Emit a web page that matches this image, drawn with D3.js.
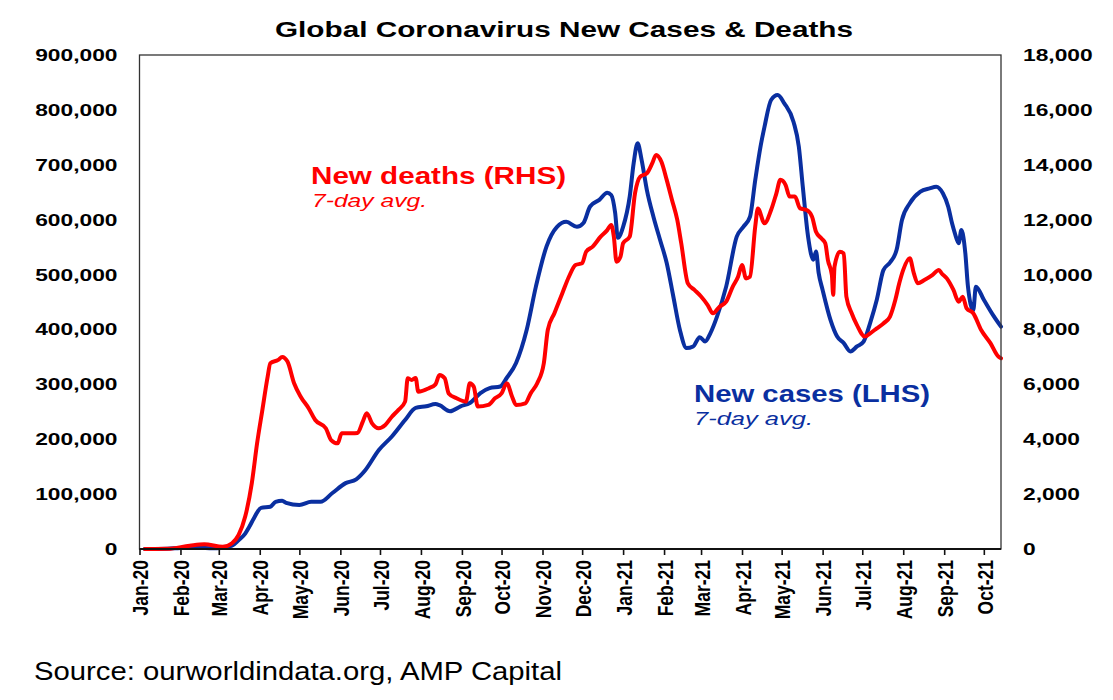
<!DOCTYPE html>
<html>
<head>
<meta charset="utf-8">
<script src="https://cdn.jsdelivr.net/npm/d3@7"></script>
<style>
  html, body { margin: 0; padding: 0; background: #fff; }
  svg { display: block; font-family: "Liberation Sans", Arial, sans-serif; }
</style>
</head>
<body>
<svg id="chart" width="1113" height="700"></svg>
<script>
// ---------------- DATA ----------------
const chartTitle = "Global Coronavirus New Cases & Deaths";
const sourceText = "Source: ourworldindata.org, AMP Capital";

const leftTicks = [0, 100000, 200000, 300000, 400000, 500000, 600000, 700000, 800000, 900000];
const rightTicks = [0, 2000, 4000, 6000, 8000, 10000, 12000, 14000, 16000, 18000];

// New cases, 7-day avg (thousands) - left axis
const caseDates = ["2020-01-05","2020-01-22","2020-02-01","2020-02-15","2020-02-25","2020-03-03","2020-03-11","2020-03-16","2020-03-21","2020-03-24","2020-03-28",
"2020-04-02","2020-04-09","2020-04-13","2020-04-18","2020-04-21","2020-05-01","2020-05-10","2020-05-17","2020-05-26","2020-06-05",
"2020-06-13","2020-06-20","2020-06-30","2020-07-10","2020-07-20","2020-07-28","2020-08-05","2020-08-12","2020-08-15","2020-08-23",
"2020-08-31","2020-09-07","2020-09-15","2020-09-22","2020-09-30","2020-10-05","2020-10-12","2020-10-20","2020-10-27","2020-11-04",
"2020-11-12","2020-11-19","2020-11-27","2020-12-02","2020-12-07","2020-12-14","2020-12-20","2020-12-23","2020-12-26","2020-12-28",
"2021-01-01","2021-01-06","2021-01-09","2021-01-12","2021-01-15","2021-01-19","2021-01-24","2021-01-29","2021-02-03","2021-02-08",
"2021-02-13","2021-02-18","2021-02-23","2021-02-28","2021-03-04","2021-03-08","2021-03-13","2021-03-20","2021-03-28","2021-04-02",
"2021-04-07","2021-04-11","2021-04-15","2021-04-18","2021-04-23","2021-04-28","2021-05-03","2021-05-10","2021-05-14","2021-05-17",
"2021-05-21","2021-05-25","2021-05-27","2021-05-29","2021-06-01","2021-06-07","2021-06-12","2021-06-17","2021-06-22","2021-06-27",
"2021-07-02","2021-07-07","2021-07-12","2021-07-17","2021-07-22","2021-07-27","2021-07-31","2021-08-06","2021-08-14","2021-08-21",
"2021-08-26","2021-08-31","2021-09-04","2021-09-07","2021-09-09","2021-09-12","2021-09-14","2021-09-17","2021-09-19","2021-09-23",
"2021-09-25","2021-10-01","2021-10-08","2021-10-14"];
const newCasesK = [0,0.5,2,2.5,1.5,2,6,16,28,40,58,
75,77,86,88,84,80,86,86,102,120,
127,144,180,205,235,257,260,264,262,251,
260,266,284,293,296,312,339,399,478,551,
587,596,587,594,624,636,649,645,612,567,
587,642,703,739,709,654,605,563,521,460,
399,366,369,386,378,393,423,478,569,587,
605,672,733,769,818,827,812,778,733,660,
569,527,542,503,472,417,387,375,360,369,
378,412,454,508,522,545,599,630,651,657,
660,648,624,593,576,557,581,539,478,435,
478,454,426,405];

// New deaths, 7-day avg - right axis
const deathDates = ["2020-01-05","2020-01-22","2020-02-08","2020-02-19","2020-03-04","2020-03-11","2020-03-16","2020-03-21","2020-03-26","2020-03-30","2020-04-03",
"2020-04-07","2020-04-09","2020-04-15","2020-04-18","2020-04-22","2020-04-27","2020-05-02","2020-05-08","2020-05-13","2020-05-21",
"2020-05-25","2020-05-30","2020-06-02","2020-06-10","2020-06-14","2020-06-18","2020-06-21","2020-06-25","2020-06-30","2020-07-05",
"2020-07-10","2020-07-15","2020-07-20","2020-07-22","2020-07-25","2020-07-28","2020-07-30","2020-08-07","2020-08-12","2020-08-15",
"2020-08-19","2020-08-22","2020-08-28","2020-09-04","2020-09-07","2020-09-10","2020-09-13","2020-09-21","2020-09-26","2020-10-01",
"2020-10-05","2020-10-09","2020-10-12","2020-10-19","2020-10-23","2020-10-28","2020-11-02","2020-11-05","2020-11-10","2020-11-16",
"2020-11-21","2020-11-26","2020-12-01","2020-12-04","2020-12-09","2020-12-15","2020-12-20","2020-12-23","2020-12-25","2020-12-27",
"2020-12-30","2021-01-01","2021-01-06","2021-01-10","2021-01-14","2021-01-19","2021-01-23","2021-01-26","2021-01-30","2021-02-03",
"2021-02-07","2021-02-11","2021-02-14","2021-02-19","2021-02-24","2021-03-01","2021-03-06","2021-03-10","2021-03-15","2021-03-20",
"2021-03-25","2021-03-29","2021-04-01","2021-04-04","2021-04-07","2021-04-11","2021-04-13","2021-04-18","2021-04-23","2021-04-27",
"2021-04-30","2021-05-04","2021-05-07","2021-05-11","2021-05-15","2021-05-20","2021-05-24","2021-05-27","2021-05-31","2021-06-03",
"2021-06-05","2021-06-08","2021-06-09","2021-06-10","2021-06-14","2021-06-17","2021-06-19","2021-06-23","2021-06-27","2021-07-03",
"2021-07-07","2021-07-12","2021-07-17","2021-07-22","2021-07-26","2021-07-29","2021-08-01","2021-08-06","2021-08-09","2021-08-12",
"2021-08-17","2021-08-23","2021-08-28","2021-08-30","2021-09-03","2021-09-08","2021-09-12","2021-09-15","2021-09-18","2021-09-23",
"2021-09-29","2021-10-06","2021-10-12","2021-10-14"];
const newDeaths = [0,5,120,170,80,210,510,1180,2400,3850,5070,
6280,6770,6890,7000,6830,6040,5550,5130,4700,4400,
3970,3850,4220,4220,4230,4640,4950,4580,4400,4520,
4820,5070,5370,6220,6160,6230,5730,5860,6000,6340,
6220,5670,5490,5370,6040,5910,5190,5250,5490,5670,
6040,5550,5250,5310,5670,6040,6770,7980,8590,9320,
9920,10350,10410,10830,11020,11380,11620,11810,11380,10470,
10650,11140,11380,12960,13570,13690,14050,14360,14110,13450,
12720,11990,11140,9680,9440,9200,8890,8590,8830,9010,
9560,9920,10350,9860,9920,11750,12410,11870,12350,12960,
13450,13260,12840,12840,12410,12350,12110,11560,11320,11140,
10530,9980,9260,10290,10830,10770,9190,8590,8160,7740,
7860,8040,8220,8470,9070,9680,10170,10590,10050,9680,
9800,9980,10170,10050,9860,9440,9010,9190,8770,8590,
7980,7500,7010,6950];

// ---------------- CHART ----------------
const parse = d3.utcParse("%Y-%m-%d");
const cases = caseDates.map((d, i) => ({ date: parse(d), value: newCasesK[i] * 1000 }));
const deaths = deathDates.map((d, i) => ({ date: parse(d), value: newDeaths[i] }));

const blue = "#0a2fa0";
const red = "#ff0000";

const plot = { left: 139.5, right: 1001, top: 55, bottom: 549 };
const svg = d3.select("#chart");
svg.append("rect").attr("width", 1113).attr("height", 700).attr("fill", "#fff");

const x = d3.scaleUtc()
  .domain([parse("2020-01-01"), parse("2021-10-14")])
  .range([plot.left, plot.right]);
const yL = d3.scaleLinear().domain([0, 900000]).range([plot.bottom, plot.top]);
const yR = d3.scaleLinear().domain([0, 18000]).range([plot.bottom, plot.top]);

function fitWidth(sel, w) {
  sel.each(function () {
    d3.select(this).attr("textLength", w).attr("lengthAdjust", "spacingAndGlyphs");
  });
}
function stretch(sel, k) {
  sel.each(function () {
    const L = this.getComputedTextLength();
    d3.select(this).attr("textLength", L * k).attr("lengthAdjust", "spacingAndGlyphs");
  });
}

// Title
svg.append("text")
  .attr("x", 564).attr("y", 37)
  .attr("text-anchor", "middle")
  .attr("font-size", 22).attr("font-weight", "bold").attr("fill", "#000")
  .text(chartTitle)
  .call(fitWidth, 578);

// Lines
const lineL = d3.line().x(d => x(d.date)).y(d => yL(d.value)).curve(d3.curveMonotoneX);
const lineR = d3.line().x(d => x(d.date)).y(d => yR(d.value)).curve(d3.curveMonotoneX);

svg.append("path").datum(cases)
  .attr("d", lineL).attr("fill", "none").attr("stroke", blue)
  .attr("stroke-width", 4).attr("stroke-linejoin", "round").attr("stroke-linecap", "round");
svg.append("path").datum(deaths)
  .attr("d", lineR).attr("fill", "none").attr("stroke", red)
  .attr("stroke-width", 4).attr("stroke-linejoin", "round").attr("stroke-linecap", "round");

// Frame
svg.append("rect")
  .attr("x", plot.left).attr("y", plot.top)
  .attr("width", plot.right - plot.left).attr("height", plot.bottom - plot.top)
  .attr("fill", "none").attr("stroke", "#333").attr("stroke-width", 1.3);
svg.append("line")
  .attr("x1", plot.left).attr("x2", plot.right)
  .attr("y1", plot.bottom).attr("y2", plot.bottom)
  .attr("stroke", "#111").attr("stroke-width", 1.8);

// Left axis
const fmt = d3.format(",");
const gL = svg.append("g").attr("transform", `translate(${plot.left},0)`)
  .call(d3.axisLeft(yL).tickValues(leftTicks).tickFormat(fmt).tickSize(0).tickPadding(22));
gL.select(".domain").remove();
gL.selectAll("text")
  .attr("font-size", 17).attr("font-weight", "bold").attr("fill", "#000")
  .attr("font-family", "Liberation Sans, Arial, sans-serif")
  .call(stretch, 1.34);

// Right axis
const gR = svg.append("g").attr("transform", `translate(${plot.right},0)`)
  .call(d3.axisRight(yR).tickValues(rightTicks).tickFormat(fmt).tickSize(0).tickPadding(22));
gR.select(".domain").remove();
gR.selectAll("text")
  .attr("font-size", 17).attr("font-weight", "bold").attr("fill", "#000")
  .attr("font-family", "Liberation Sans, Arial, sans-serif")
  .call(stretch, 1.34);

// Bottom axis (month ticks)
const months = d3.utcMonth.range(parse("2020-01-01"), parse("2021-10-02"));
const fmtM = d3.utcFormat("%b-%y");
const gB = svg.append("g").attr("transform", `translate(0,${plot.bottom})`)
  .call(d3.axisBottom(x).tickValues(months).tickFormat(fmtM).tickSize(6).tickSizeOuter(0));
gB.select(".domain").remove();
gB.selectAll(".tick line").attr("stroke", "#111").attr("stroke-width", 1.6);
gB.selectAll(".tick text")
  .attr("font-size", 17.5).attr("font-weight", "bold").attr("fill", "#000")
  .attr("font-family", "Liberation Sans, Arial, sans-serif")
  .attr("text-anchor", "end")
  .attr("x", 0).attr("y", 0).attr("dy", "0.36em")
  .attr("transform", "translate(0,11) rotate(-90) scale(1,1.3)");

// Annotations
svg.append("text").attr("x", 311).attr("y", 184)
  .attr("font-size", 24).attr("font-weight", "bold").attr("fill", red)
  .text("New deaths (RHS)").call(fitWidth, 255);
svg.append("text").attr("x", 312).attr("y", 207)
  .attr("font-size", 18).attr("font-style", "italic").attr("fill", red)
  .text("7-day avg.").call(fitWidth, 115);
svg.append("text").attr("x", 694).attr("y", 402)
  .attr("font-size", 24).attr("font-weight", "bold").attr("fill", blue)
  .text("New cases (LHS)").call(fitWidth, 236);
svg.append("text").attr("x", 694).attr("y", 425)
  .attr("font-size", 18).attr("font-style", "italic").attr("fill", blue)
  .text("7-day avg.").call(fitWidth, 119);

// Source
svg.append("text").attr("x", 34).attr("y", 680)
  .attr("font-size", 26).attr("fill", "#000")
  .text(sourceText).call(fitWidth, 528);
</script>
</body>
</html>
